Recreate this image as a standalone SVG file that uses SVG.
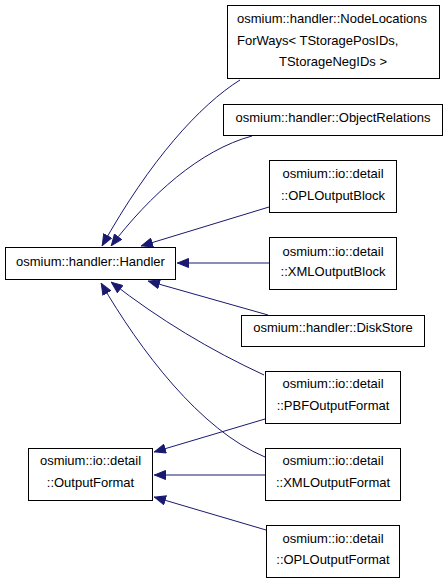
<svg xmlns="http://www.w3.org/2000/svg" width="448" height="584" viewBox="0 0 448 584">
<style>
.box{fill:#fff;stroke:#000;stroke-width:1}
text{font-family:"Liberation Sans",Arial,sans-serif;font-size:13px;fill:#000}
.c{text-anchor:middle}
.e{fill:none;stroke:#191970;stroke-width:1;marker-end:url(#arr)}
</style>
<defs>
<marker id="arr" viewBox="0 0 12 10" refX="12" refY="5" markerWidth="12" markerHeight="10" markerUnits="userSpaceOnUse" orient="auto">
<path d="M0.5,0.5 L11.5,5 L0.5,9.5 z" fill="#191970" stroke="#191970" stroke-width="1"/>
</marker>
</defs>
<rect width="448" height="584" fill="#fff"/>
<g id="connectors">
<path class="e" d="M240,80 C200,105 150,160 102,246"/>
<path class="e" d="M252,136 C200,150 150,195 111,246"/>
<path class="e" d="M269,207 L141,246"/>
<path class="e" d="M269,263 L177,263"/>
<path class="e" d="M268,315 L148,281"/>
<path class="e" d="M264,375 C210,350 160,320 111,282"/>
<path class="e" d="M265,457 C200,430 140,350 101,283"/>
<path class="e" d="M265,419 L154,452"/>
<path class="e" d="M265,475 L154,475"/>
<path class="e" d="M266,530 L154,497"/>
</g>
<g id="node-nodelocations">
<rect class="box" x="227.5" y="5.5" width="212" height="73"/>
<text x="237" y="23">osmium::handler::NodeLocations</text>
<text x="237" y="44.5">ForWays&lt; TStoragePosIDs,</text>
<text class="c" x="333" y="65.5">TStorageNegIDs &gt;</text>
</g>
<g id="node-objectrelations">
<rect class="box" x="223.5" y="104.5" width="219" height="31"/>
<text class="c" x="333" y="121.5">osmium::handler::ObjectRelations</text>
</g>
<g id="node-oploutputblock">
<rect class="box" x="269.5" y="160.5" width="127" height="52"/>
<text class="c" x="333" y="177.5">osmium::io::detail</text>
<text class="c" x="333" y="199.5">::OPLOutputBlock</text>
</g>
<g id="node-handler">
<rect class="box" x="5.5" y="247.5" width="170" height="32"/>
<text class="c" x="90.5" y="265.5">osmium::handler::Handler</text>
</g>
<g id="node-xmloutputblock">
<rect class="box" x="269.5" y="237.5" width="127" height="52"/>
<text class="c" x="333" y="255.5">osmium::io::detail</text>
<text class="c" x="333" y="276">::XMLOutputBlock</text>
</g>
<g id="node-diskstore">
<rect class="box" x="241.5" y="315.5" width="183" height="31"/>
<text class="c" x="333" y="332">osmium::handler::DiskStore</text>
</g>
<g id="node-pbfoutputformat">
<rect class="box" x="265.5" y="371.5" width="135" height="52"/>
<text class="c" x="333" y="388">osmium::io::detail</text>
<text class="c" x="333" y="409.5">::PBFOutputFormat</text>
</g>
<g id="node-outputformat">
<rect class="box" x="28.5" y="448.5" width="124" height="52"/>
<text class="c" x="90.5" y="465">osmium::io::detail</text>
<text class="c" x="90.5" y="487">::OutputFormat</text>
</g>
<g id="node-xmloutputformat">
<rect class="box" x="265.5" y="448.5" width="135" height="52"/>
<text class="c" x="333" y="465">osmium::io::detail</text>
<text class="c" x="333" y="487">::XMLOutputFormat</text>
</g>
<g id="node-ploutputformat">
<rect class="box" x="266.5" y="525.5" width="133" height="52"/>
<text class="c" x="333" y="542.5">osmium::io::detail</text>
<text class="c" x="333" y="564">::OPLOutputFormat</text>
</g>
</svg>
